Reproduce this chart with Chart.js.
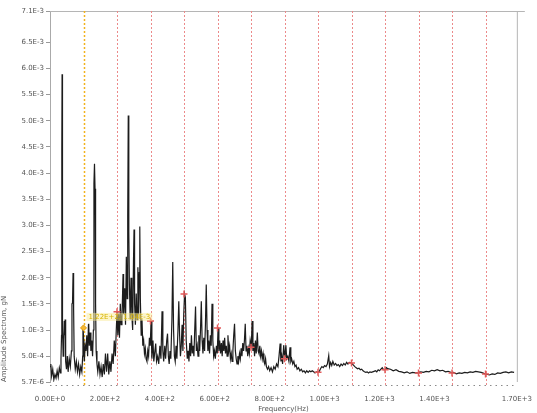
<!DOCTYPE html>
<html>
<head>
<meta charset="utf-8">
<script src="https://cdn.jsdelivr.net/npm/chart.js@4"></script>
<style>
  html, body { margin: 0; padding: 0; background: #fff; }
  #wrap { width: 537px; height: 413px; }
</style>
</head>
<body>
<div id="wrap"><canvas id="spec"></canvas></div>
<script>
// amplitude in units of 1E-3 g
var freq = [0,3,6,10,14,18,22,26,30,34,38,40,42,43,44,45,46,48,50,52,53,55,57,60,63,66,70,74,78,80,82,84,86,88,92,96,100,104,108,112,116,119,120,122,125,128,131,134,137,140,141,143,146,149,152,155,158,160,162,164,166,168,171,174,178,182,186,190,194,198,202,206,210,214,218,222,226,230,234,238,241,244,247,250,253,256,259,262,266,268,272,275,278,281,283,285,287,289,292,295,298,301,304,306,308,311,314,317,320,323,325,327,329,332,335,338,341,344,347,350,353,356,359,362,365,368,371,375,378,382,385,388,392,396,400,404,408,411,414,418,421,425,428,431,434,437,440,444,447,450,453,456,459,462,466,469,472,475,478,481,484,487,490,493,496,500,503,506,509,512,515,518,521,524,527,530,533,536,539,542,545,548,551,554,557,560,563,566,569,572,575,578,581,584,587,590,593,596,599,602,606,609,612,615,618,621,624,627,630,633,636,639,642,645,648,651,654,657,660,663,666,669,672,675,678,681,684,687,690,693,696,699,702,705,708,711,714,717,720,723,726,729,733,736,739,742,745,748,751,755,758,761,764,767,770,773,776,779,782,785,788,792,796,800,805,810,815,820,825,830,834,838,841,844,847,851,855,859,862,866,870,874,877,880,884,888,892,896,900,905,910,915,920,925,930,935,940,945,950,955,960,965,970,976,980,985,990,995,1000,1005,1010,1015,1018,1022,1026,1030,1035,1040,1045,1050,1055,1060,1065,1070,1075,1080,1085,1090,1098,1105,1110,1115,1120,1125,1130,1135,1140,1145,1150,1155,1160,1165,1170,1175,1180,1185,1190,1195,1200,1205,1210,1215,1220,1225,1230,1240,1250,1260,1270,1280,1290,1300,1310,1320,1330,1342,1350,1360,1370,1380,1390,1400,1410,1420,1430,1440,1450,1464,1470,1480,1490,1500,1510,1520,1530,1540,1550,1560,1570,1580,1586,1600,1610,1620,1630,1640,1650,1660,1670,1680,1690];
var amp = [0.30,0.35,0.12,0.25,0.05,0.15,0.08,0.22,0.10,0.28,0.18,0.45,0.90,4.44,5.89,4.40,1.00,0.50,0.80,1.17,0.90,1.20,0.40,0.25,0.50,0.20,0.45,0.30,0.60,1.50,1.52,2.09,1.40,0.50,0.25,0.40,0.20,0.35,0.15,0.30,0.20,0.50,1.04,0.90,0.40,0.70,0.60,0.90,0.50,1.10,1.12,0.70,0.95,0.60,0.80,0.50,1.00,3.80,4.18,3.70,1.50,0.60,0.35,0.20,0.40,0.15,0.30,0.10,0.35,0.15,0.55,0.20,0.55,0.15,0.40,0.20,0.55,0.35,0.80,0.50,0.95,1.35,0.90,1.30,0.85,1.50,1.10,1.20,2.07,1.30,1.80,1.10,2.40,1.60,3.20,5.10,2.88,1.90,1.20,2.00,1.30,1.00,2.30,2.92,1.50,1.10,1.70,1.20,2.20,1.30,2.10,2.98,1.60,0.90,1.20,0.70,0.80,0.55,0.65,0.45,0.40,0.60,0.50,0.85,0.70,1.17,0.45,0.80,0.40,0.60,0.74,0.40,0.50,0.35,0.70,0.45,1.36,0.60,0.40,0.70,0.45,0.80,0.93,0.50,0.35,0.60,0.45,1.20,2.30,1.00,0.50,0.40,0.70,0.45,1.00,1.55,0.90,0.50,0.70,1.10,0.60,1.30,1.69,1.62,0.80,0.45,0.60,0.40,0.75,0.50,0.90,0.55,0.70,0.50,1.00,1.45,0.60,0.70,0.50,0.90,0.60,1.00,1.55,0.80,0.55,0.85,0.60,1.10,1.87,1.00,0.60,0.80,0.55,0.90,0.70,1.50,0.80,0.50,0.60,0.45,0.70,0.55,1.04,0.60,0.80,0.55,0.75,0.50,0.80,0.60,0.85,0.55,0.70,0.50,0.90,0.60,0.70,0.45,0.55,0.40,0.60,0.90,1.12,0.60,0.45,0.35,0.50,0.40,0.55,0.45,0.65,0.50,0.75,0.60,0.80,1.12,0.60,0.70,0.50,0.65,0.55,0.80,0.67,1.17,0.60,0.75,0.50,0.80,0.55,0.95,0.60,0.55,0.70,0.50,0.60,0.45,0.55,0.40,0.35,0.45,0.30,0.25,0.30,0.22,0.28,0.20,0.30,0.25,0.35,0.30,0.50,0.74,0.40,0.50,0.35,0.71,0.45,0.71,0.45,0.50,0.40,0.67,0.40,0.45,0.35,0.40,0.30,0.33,0.25,0.28,0.22,0.25,0.20,0.22,0.18,0.22,0.19,0.22,0.20,0.22,0.20,0.18,0.20,0.19,0.20,0.26,0.30,0.28,0.32,0.30,0.35,0.51,0.30,0.38,0.32,0.40,0.33,0.36,0.32,0.34,0.30,0.35,0.32,0.36,0.33,0.38,0.35,0.38,0.37,0.33,0.30,0.28,0.26,0.27,0.24,0.25,0.22,0.20,0.19,0.20,0.18,0.20,0.19,0.20,0.21,0.22,0.20,0.24,0.22,0.25,0.28,0.24,0.24,0.28,0.26,0.25,0.22,0.24,0.21,0.20,0.18,0.20,0.17,0.19,0.18,0.18,0.20,0.19,0.21,0.20,0.23,0.22,0.24,0.22,0.23,0.20,0.21,0.18,0.19,0.16,0.18,0.17,0.19,0.18,0.20,0.19,0.21,0.20,0.19,0.17,0.16,0.14,0.16,0.15,0.18,0.17,0.19,0.20,0.18,0.20,0.19];

// harmonic cursor (fundamental + harmonics) and the amplitude read at each
var cursorFreq = 122;
var cursorAmp = 1.04;
var cursorLabel = "1.22E+2, 1.04E-3";
var harmFreq = [244,366,488,610,732,854,976,1098,1220,1342,1464,1586];
var harmAmp = [1.35,1.17,1.69,1.04,0.67,0.45,0.19,0.37,0.24,0.18,0.18,0.16];

var xTicks = [0,200,400,600,800,1000,1200,1400,1700];
var yTicks = [0.0057,0.5,1.0,1.5,2.0,2.5,3.0,3.5,4.0,4.5,5.0,5.5,6.0,6.5,7.1];

var cursorPlugin = {
    id: 'cursors',
    beforeDatasetsDraw: function(chart) {
        var ctx = chart.ctx, a = chart.chartArea, x = chart.scales.x;
        ctx.save();
        // frame
        ctx.strokeStyle = '#b5b5b5';
        ctx.lineWidth = 1;
        ctx.beginPath();
        ctx.moveTo(a.left, a.top + 0.5);
        ctx.lineTo(a.right + 8, a.top + 0.5);
        ctx.moveTo(a.right + 0.5, a.top);
        ctx.lineTo(a.right + 0.5, a.bottom);
        ctx.stroke();
        // dotted minor ticks under the plot
        ctx.strokeStyle = '#8a8a8a';
        ctx.setLineDash([1.5, 4]);
        ctx.beginPath();
        ctx.moveTo(a.left, a.bottom + 3.5);
        ctx.lineTo(a.right, a.bottom + 3.5);
        ctx.stroke();
        // harmonic lines
        ctx.setLineDash([2, 2]);
        ctx.strokeStyle = '#ec8a8a';
        harmFreq.forEach(function(f) {
            var px = Math.round(x.getPixelForValue(f)) + 0.5;
            ctx.beginPath();
            ctx.moveTo(px, a.top);
            ctx.lineTo(px, a.bottom + 4);
            ctx.stroke();
        });
        ctx.strokeStyle = '#f2b21e';
        ctx.lineWidth = 1.5;
        var cx = Math.round(x.getPixelForValue(cursorFreq)) + 0.5;
        ctx.beginPath();
        ctx.moveTo(cx, a.top);
        ctx.lineTo(cx, a.bottom + 4);
        ctx.stroke();
        ctx.restore();
    },
    afterDatasetsDraw: function(chart) {
        var ctx = chart.ctx, x = chart.scales.x, y = chart.scales.y;
        var px = x.getPixelForValue(cursorFreq) + 4;
        var py = y.getPixelForValue(cursorAmp) - 11;
        ctx.save();
        ctx.font = '7px "DejaVu Sans"';
        var w = ctx.measureText(cursorLabel).width;
        ctx.fillStyle = 'rgba(250,235,150,0.5)';
        ctx.fillRect(px - 1, py - 4, w + 4, 8);
        ctx.fillStyle = '#d8b400';
        ctx.textBaseline = 'middle';
        ctx.fillText(cursorLabel, px + 1, py);
        ctx.restore();
    }
};

new Chart(document.getElementById('spec'), {
    type: 'line',
    data: {
        datasets: [{
            label: 'Spectrum',
            data: freq.map(function(f, i) { return {x: f, y: amp[i]}; }),
            borderColor: '#1c1c1c',
            borderWidth: 1.2,
            pointRadius: 0,
            tension: 0,
            order: 2
        }, {
            label: 'Harmonics',
            data: harmFreq.map(function(f, i) { return {x: f, y: harmAmp[i]}; }),
            showLine: false,
            pointStyle: 'cross',
            pointRadius: 3.5,
            borderColor: '#e25a5a',
            borderWidth: 1.5,
            order: 1
        }, {
            label: 'Cursor',
            data: [{x: cursorFreq, y: cursorAmp}],
            showLine: false,
            pointStyle: 'rectRot',
            pointRadius: 3,
            backgroundColor: '#f5b830',
            borderColor: '#e09a10',
            borderWidth: 1,
            order: 1
        }]
    },
    options: {
        responsive: true,
        maintainAspectRatio: false,
        animation: false,
        layout: { padding: { left: 0, right: 15, top: 11, bottom: 0 } },
        plugins: { legend: { display: false }, tooltip: { enabled: false } },
        scales: {
            x: {
                type: 'linear',
                min: 0,
                max: 1700,
                afterBuildTicks: function(s) { s.ticks = xTicks.map(function(v) { return {value: v}; }); },
                afterFit: function(s) { s.height = 31; },
                ticks: {
                    color: '#555',
                    font: { family: 'DejaVu Sans', size: 7 },
                    padding: 5,
                    maxRotation: 0,
                    autoSkip: false,
                    callback: function(v) { return Number(v).toExponential(2).toUpperCase(); }
                },
                grid: { display: false },
                border: { display: false },
                title: {
                    display: true,
                    text: 'Frequency(Hz)',
                    color: '#555',
                    font: { family: 'DejaVu Sans', size: 7 },
                    padding: { top: 1, bottom: 0 }
                }
            },
            y: {
                min: 0.0057,
                max: 7.1,
                afterBuildTicks: function(s) { s.ticks = yTicks.map(function(v) { return {value: v}; }); },
                afterFit: function(s) { s.width = 50; },
                ticks: {
                    color: '#555',
                    font: { family: 'DejaVu Sans', size: 7 },
                    padding: 2,
                    autoSkip: false,
                    callback: function(v) { return (v * 1e-3).toExponential(1).toUpperCase(); }
                },
                grid: { drawOnChartArea: false, tickLength: 4, color: '#999' },
                border: { color: '#aaa' },
                title: {
                    display: true,
                    text: 'Amplitude Spectrum, gN',
                    align: 'start',
                    color: '#555',
                    font: { family: 'DejaVu Sans', size: 7 },
                    padding: { top: 0, bottom: 0 }
                }
            }
        }
    },
    plugins: [cursorPlugin]
});
</script>
</body>
</html>
